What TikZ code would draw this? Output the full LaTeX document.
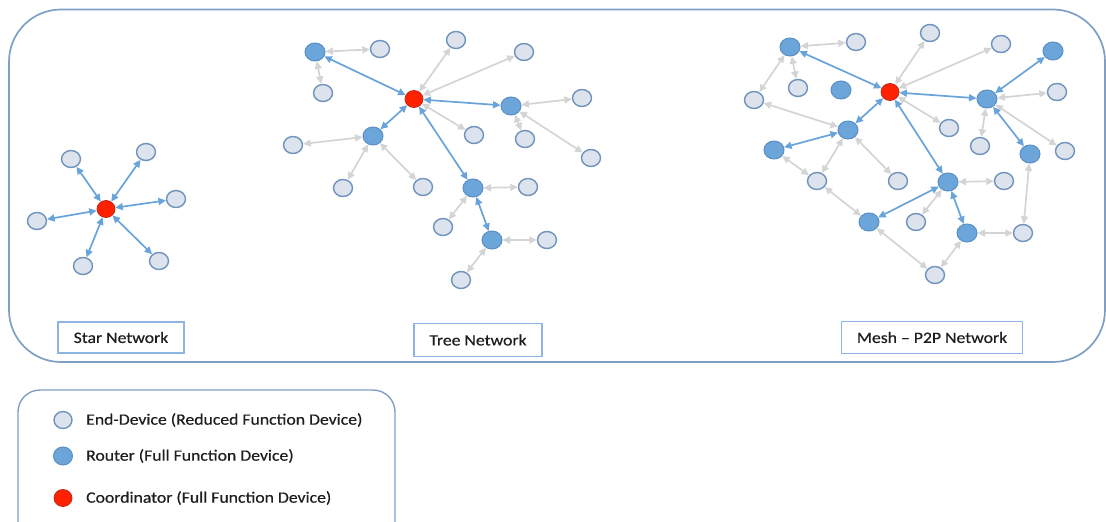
\documentclass[tikz,border=0pt]{standalone}
\usepackage{fontspec}
\usetikzlibrary{shapes.geometric,arrows.meta}
\newfontfamily\lblfont[FakeStretch=1.12,FakeBold=0.5]{Carlito}
\definecolor{framecol}{HTML}{7EA0C4}
\definecolor{boxcol}{HTML}{8DB4E2}
\definecolor{edfill}{HTML}{DDE3EC}
\definecolor{edline}{HTML}{6F93BC}
\definecolor{rtfill}{HTML}{6BA5D9}
\definecolor{rtline}{HTML}{5A90C4}
\definecolor{cofill}{HTML}{FF2200}
\definecolor{coline}{HTML}{C0281C}
\definecolor{bluecol}{HTML}{68A4D9}
\definecolor{graycol}{HTML}{D4D4D4}
\definecolor{txtcol}{HTML}{1E1E1E}
\tikzset{
  enddev/.style={ellipse, draw=edline, fill=edfill, line width=1.4pt,
    minimum width=19pt, minimum height=17pt, inner sep=0pt},
  router/.style={ellipse, draw=rtline, fill=rtfill, line width=1pt,
    minimum width=20pt, minimum height=18pt, inner sep=0pt},
  coordnode/.style={ellipse, draw=coline, fill=cofill, line width=0.8pt,
    minimum width=18pt, minimum height=17pt, inner sep=0pt},
  bluelink/.style={draw=bluecol, line width=1.7pt,
    {Triangle[length=7.5pt,width=7pt]}-{Triangle[length=7.5pt,width=7pt]}},
  graylink/.style={draw=graycol, line width=1.7pt,
    {Triangle[length=7.5pt,width=7pt]}-{Triangle[length=7.5pt,width=7pt]}},
  namebox/.style={draw=boxcol, line width=1.5pt, fill=white, inner sep=0pt,
    text=txtcol, font=\lblfont\fontsize{15.8}{18}\selectfont},
  legtext/.style={anchor=west, inner sep=0pt, text=txtcol,
    font=\lblfont\fontsize{15.8}{18}\selectfont}
}
\begin{document}
\begin{tikzpicture}[x=1pt,y=-1pt]
\useasboundingbox (0,0) rectangle (1106,522);
% outer frame and legend frame
\draw[framecol, line width=1.7pt, rounded corners=52pt] (9,9.5) rectangle (1105,362);
\draw[framecol, line width=1.4pt, rounded corners=22pt] (18,390) rectangle (395,545);

% ---------- star network ----------
\node[coordnode] (s0) at (106,209) {};
\node[enddev] (s1) at (71,159) {};
\node[enddev] (s2) at (146,152) {};
\node[enddev] (s3) at (176,199) {};
\node[enddev] (s4) at (37,221) {};
\node[enddev] (s5) at (83,266) {};
\node[enddev] (s6) at (159,261) {};
\foreach \n in {s1,s2,s3,s4,s5,s6} \draw[bluelink] (s0) -- (\n);

% ---------- tree network ----------
\node[coordnode] (t0) at (414,99) {};
\node[router] (tr1) at (315,52) {};
\node[router] (tr2) at (511,106) {};
\node[router] (tr3) at (373,136) {};
\node[router] (tr4) at (473,188) {};
\node[router] (tr5) at (492,240) {};
\node[enddev] (te1) at (380,49) {};
\node[enddev] (te2) at (323,93) {};
\node[enddev] (te3) at (456,40) {};
\node[enddev] (te4) at (524,52) {};
\node[enddev] (te5) at (582,98) {};
\node[enddev] (te6) at (525,139) {};
\node[enddev] (te7) at (591,158) {};
\node[enddev] (te8) at (474,135) {};
\node[enddev] (te9) at (293,145) {};
\node[enddev] (te10) at (343,188) {};
\node[enddev] (te11) at (423,187) {};
\node[enddev] (te12) at (528,187) {};
\node[enddev] (te13) at (443,227) {};
\node[enddev] (te14) at (547,240) {};
\node[enddev] (te15) at (461,280) {};
\draw[graylink] (tr1) -- (te1);
\draw[graylink] (tr1) -- (te2);
\draw[graylink] (t0) -- (te3);
\draw[graylink] (t0) -- (te4);
\draw[graylink] (t0) -- (te8);
\draw[graylink] (tr2) -- (te5);
\draw[graylink] (tr2) -- (te6);
\draw[graylink] (tr2) -- (te7);
\draw[graylink] (tr3) -- (te9);
\draw[graylink] (tr3) -- (te10);
\draw[graylink] (tr3) -- (te11);
\draw[graylink] (tr4) -- (te12);
\draw[graylink] (tr4) -- (te13);
\draw[graylink] (tr5) -- (te14);
\draw[graylink] (tr5) -- (te15);
\draw[bluelink] (t0) -- (tr1);
\draw[bluelink] (t0) -- (tr2);
\draw[bluelink] (t0) -- (tr3);
\draw[bluelink] (t0) -- (tr4);
\draw[bluelink] (tr4) -- (tr5);

% ---------- mesh network ----------
\node[coordnode] (m0) at (890,92) {};
\node[router] (mr1) at (790,47) {};
\node[router] (mr2) at (841,90) {};
\node[router] (mr3) at (1053,51) {};
\node[router] (mr4) at (987,99) {};
\node[router] (mr5) at (1030,154) {};
\node[router] (mr6) at (848,130) {};
\node[router] (mr7) at (774,150) {};
\node[router] (mr8) at (948,182) {};
\node[router] (mr9) at (869,222) {};
\node[router] (mr10) at (967,233) {};
\node[enddev] (me1) at (856,42) {};
\node[enddev] (me2) at (798,88) {};
\node[enddev] (me3) at (754,100) {};
\node[enddev] (me4) at (930,33) {};
\node[enddev] (me5) at (1001,44) {};
\node[enddev] (me6) at (1057,92) {};
\node[enddev] (me7) at (980,146) {};
\node[enddev] (me8) at (1065,151) {};
\node[enddev] (me9) at (949,128) {};
\node[enddev] (me10) at (817,181) {};
\node[enddev] (me11) at (898,181) {};
\node[enddev] (me12) at (1004,181) {};
\node[enddev] (me13) at (916,222) {};
\node[enddev] (me14) at (1023,233) {};
\node[enddev] (me15) at (935,275) {};
\draw[graylink] (mr1) -- (me1);
\draw[graylink] (mr1) -- (me2);
\draw[graylink] (mr1) -- (me3);
\draw[graylink] (me3) -- (mr6);
\draw[graylink] (m0) -- (me4);
\draw[graylink] (m0) -- (me5);
\draw[graylink] (m0) -- (me9);
\draw[graylink] (mr4) -- (me6);
\draw[graylink] (mr4) -- (me7);
\draw[graylink] (mr4) -- (me8);
\draw[graylink] (mr6) -- (me10);
\draw[graylink] (mr6) -- (me11);
\draw[graylink] (mr7) -- (me10);
\draw[graylink] (me10) -- (mr9);
\draw[graylink] (mr8) -- (me12);
\draw[graylink] (mr8) -- (me13);
\draw[graylink] (mr9) -- (me15);
\draw[graylink] (mr10) -- (me15);
\draw[graylink] (mr10) -- (me14);
\draw[graylink] (me14) -- (mr5);
\draw[bluelink] (m0) -- (mr1);
\draw[bluelink] (m0) -- (mr4);
\draw[bluelink] (m0) -- (mr6);
\draw[bluelink] (m0) -- (mr8);
\draw[bluelink] (mr4) -- (mr3);
\draw[bluelink] (mr4) -- (mr5);
\draw[bluelink] (mr6) -- (mr7);
\draw[bluelink] (mr8) -- (mr9);
\draw[bluelink] (mr8) -- (mr10);

% ---------- captions ----------
\node[namebox, minimum width=126pt, minimum height=31pt] (capstar) at (121,337.5) {Star Network};
\node[namebox, minimum width=128pt, minimum height=33pt] (captree) at (478,340) {Tree Network};
\node[namebox, minimum width=181pt, minimum height=32pt] (capmesh) at (932,337.5) {Mesh – P2P Network};

% ---------- legend ----------
\node[enddev, minimum width=18pt] (lg1) at (63,420) {};
\node[router, minimum width=19pt] (lg2) at (63,456) {};
\node[coordnode] (lg3) at (63,498) {};
\node[legtext] (lt1) at (86,420) {End-Device (Reduced Function Device)};
\node[legtext] (lt2) at (86,456) {Router (Full Function Device)};
\node[legtext] (lt3) at (86,498) {Coordinator (Full Function Device)};
\end{tikzpicture}
\end{document}
